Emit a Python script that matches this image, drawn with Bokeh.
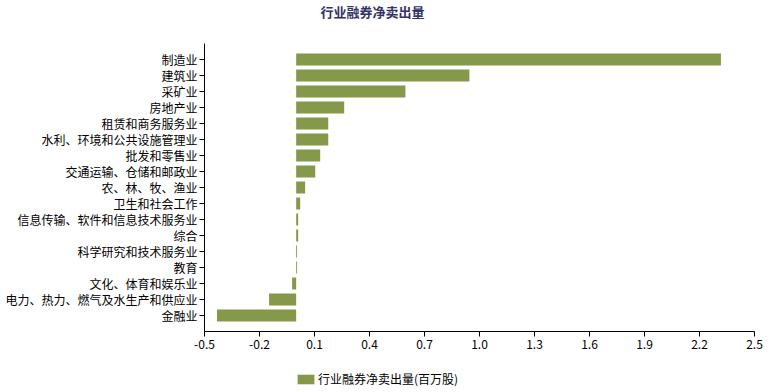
from bokeh.plotting import figure
from bokeh.layouts import column
from bokeh.models import (Range1d, FixedTicker, NumeralTickFormatter, Label,
                          Legend, LegendItem, ColumnDataSource)
from bokeh.embed import file_html
from bokeh.resources import INLINE

title_text = "行业融券净卖出量"
series_name = "行业融券净卖出量(百万股)"
categories = ["制造业", "建筑业", "采矿业", "房地产业", "租赁和商务服务业",
              "水利、环境和公共设施管理业", "批发和零售业", "交通运输、仓储和邮政业",
              "农、林、牧、渔业", "卫生和社会工作", "信息传输、软件和信息技术服务业",
              "综合", "科学研究和技术服务业", "教育", "文化、体育和娱乐业",
              "电力、热力、燃气及水生产和供应业", "金融业"]
values = [2.317, 0.945, 0.596, 0.262, 0.175, 0.175, 0.131, 0.104, 0.049,
          0.022, 0.011, 0.011, 0.005, 0.005, -0.022, -0.148, -0.432]
x_ticks = [-0.5, -0.2, 0.1, 0.4, 0.7, 1.0, 1.3, 1.6, 1.9, 2.2, 2.5]

FONT = "Noto Sans CJK SC"
BAR = "#86994a"

n = len(categories)
ypos = [n - 1 - i for i in range(n)]
src = ColumnDataSource(dict(y=ypos, v=values, cat=categories))


def strip(h):
    f = figure(width=765, height=h, output_backend="svg", toolbar_location=None,
               x_range=Range1d(0, 1), y_range=Range1d(0, 1),
               x_axis_type=None, y_axis_type=None, min_border=0)
    f.outline_line_color = None
    f.grid.visible = False
    return f


# title strip
t = strip(20)
t.add_layout(Label(x=116, y=9.5, x_units="screen", y_units="screen",
                   text=title_text, text_font=FONT, text_font_size="13px",
                   text_font_style="bold", text_color="#333366",
                   text_baseline="middle"))

# main chart
p = figure(width=765, height=340, output_backend="svg", toolbar_location=None,
           x_range=Range1d(-0.5, 2.5), y_range=Range1d(-1, n),
           min_border_left=204, min_border_right=11, min_border_top=23,
           min_border_bottom=29)
p.outline_line_color = None
p.grid.visible = False

r = p.hbar(y="y", left=0, right="v", height=0.75, source=src,
           fill_color=BAR, line_color=None)

p.xaxis.ticker = FixedTicker(ticks=x_ticks)
p.xaxis.formatter = NumeralTickFormatter(format="0.0")
p.yaxis.ticker = FixedTicker(ticks=ypos)
p.yaxis.major_label_overrides = {yy: c for yy, c in zip(ypos, categories)}

for ax in (p.xaxis[0], p.yaxis[0]):
    ax.axis_line_color = "black"
    ax.major_tick_line_color = "black"
    ax.minor_tick_line_color = None
    ax.major_tick_in = 0
    ax.major_tick_out = 5
    ax.major_label_text_font = FONT
    ax.major_label_text_font_size = "12px"
    ax.major_label_text_color = "black"
p.yaxis.major_label_standoff = 2
p.xaxis.major_label_standoff = 3

# legend strip under the chart
q = strip(30)
lr = q.hbar(y="y", left=0, right="v", height=0.75, source=src,
            fill_color=BAR, line_color=None, visible=False)
legend = Legend(items=[LegendItem(label=series_name, renderers=[lr])],
                location=(91, 3), orientation="horizontal",
                glyph_width=21, glyph_height=12, label_height=11,
                label_standoff=2, padding=0, margin=0, spacing=0,
                border_line_color=None, background_fill_alpha=0,
                inactive_fill_alpha=0,
                label_text_font=FONT, label_text_font_size="12px",
                label_text_color="black")
q.add_layout(legend, "center")

layout = column(t, p, q, spacing=0)
open("out.html", "w").write(file_html(layout, INLINE))
